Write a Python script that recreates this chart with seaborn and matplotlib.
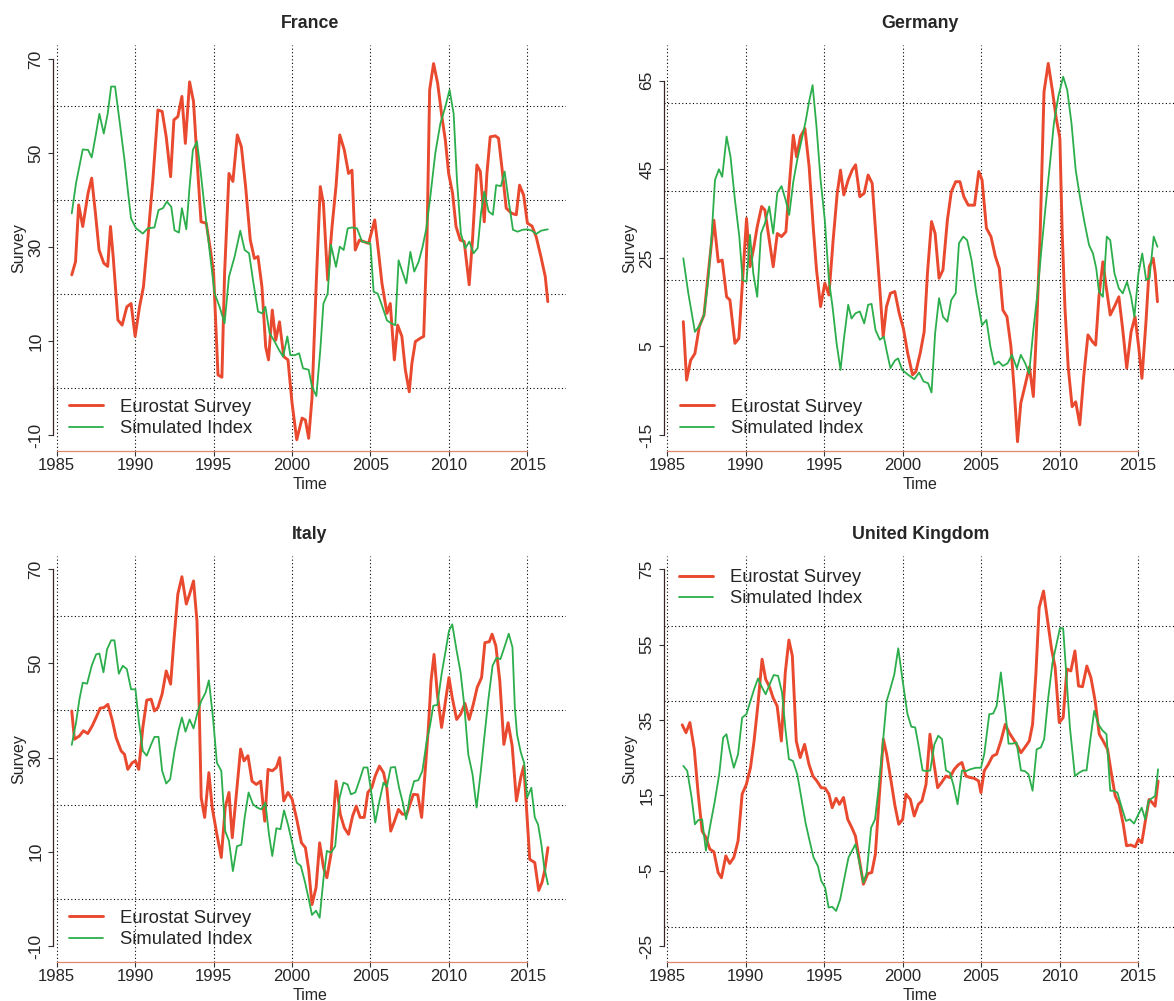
import matplotlib
matplotlib.use("Agg")
import matplotlib.pyplot as plt
import seaborn as sns
import numpy as np

sns.set_style("white")
plt.rcParams['font.family'] = ['Liberation Sans', 'DejaVu Sans']

# ---------------- data ----------------
fr_survey_t = [1985.96, 1986.2, 1986.4, 1986.66, 1987.0, 1987.23, 1987.47, 1987.7, 1988.0, 1988.25, 1988.43, 1988.6, 1988.9, 1989.17, 1989.47, 1989.74, 1990.0, 1990.28, 1990.53, 1990.8, 1991.13, 1991.45, 1991.72, 1991.98, 1992.26, 1992.47, 1992.72, 1992.98, 1993.2, 1993.47, 1993.72, 1994.0, 1994.2, 1994.53, 1994.8, 1995.0, 1995.28, 1995.53, 1995.7, 1995.98, 1996.23, 1996.51, 1996.77, 1997.04, 1997.34, 1997.6, 1997.83, 1998.08, 1998.32, 1998.5, 1998.74, 1998.96, 1999.2, 1999.47, 1999.74, 2000.0, 2000.3, 2000.64, 2000.85, 2001.06, 2001.27, 2001.55, 2001.8, 2002.0, 2002.27, 2002.55, 2002.8, 2003.04, 2003.33, 2003.6, 2003.82, 2004.03, 2004.29, 2004.56, 2004.88, 2005.27, 2005.52, 2005.73, 2006.05, 2006.26, 2006.52, 2006.73, 2007.0, 2007.22, 2007.47, 2007.64, 2007.86, 2008.17, 2008.39, 2008.6, 2008.77, 2009.02, 2009.28, 2009.55, 2009.77, 2009.98, 2010.23, 2010.45, 2010.72, 2010.97, 2011.29, 2011.5, 2011.78, 2012.0, 2012.25, 2012.42, 2012.63, 2012.95, 2013.16, 2013.38, 2013.65, 2014.0, 2014.29, 2014.5, 2014.76, 2015.0, 2015.29, 2015.56, 2015.86, 2016.14, 2016.3]
fr_survey_v = [24.1, 26.9, 39.0, 34.4, 41.5, 44.7, 37.2, 29.4, 26.6, 25.9, 34.4, 28.0, 14.5, 13.4, 17.3, 18.0, 11.0, 17.3, 21.6, 31.5, 44.3, 59.2, 58.9, 53.5, 45.0, 57.1, 57.8, 62.1, 52.1, 65.2, 61.0, 45.7, 35.4, 35.1, 29.4, 24.4, 2.8, 2.3, 24.4, 45.7, 44.0, 53.9, 51.4, 42.9, 31.5, 27.6, 28.0, 21.6, 8.8, 6.0, 16.6, 10.2, 14.1, 6.7, 6.0, -3.2, -11.0, -6.4, -6.8, -10.7, -2.2, 23.0, 42.9, 39.3, 23.0, 34.4, 42.9, 53.9, 50.7, 45.7, 46.4, 29.4, 31.5, 31.2, 30.8, 35.8, 28.7, 22.3, 15.9, 18.0, 6.0, 13.4, 11.0, 3.9, -0.8, 5.3, 9.9, 10.6, 11.0, 31.5, 63.5, 69.1, 64.9, 57.8, 52.8, 45.7, 41.5, 34.4, 31.5, 31.2, 22.0, 31.5, 47.5, 46.1, 35.4, 45.7, 53.5, 53.7, 53.2, 46.8, 38.3, 37.2, 36.9, 43.2, 41.1, 35.1, 34.5, 32.2, 28.0, 23.7, 18.4]
fr_index_t = [1985.96, 1986.23, 1986.66, 1987.0, 1987.23, 1987.47, 1987.72, 1988.0, 1988.25, 1988.47, 1988.72, 1989.0, 1989.32, 1989.53, 1989.74, 1990.06, 1990.49, 1990.8, 1991.23, 1991.49, 1991.77, 1992.02, 1992.3, 1992.51, 1992.79, 1992.98, 1993.26, 1993.47, 1993.68, 1993.94, 1994.15, 1994.43, 1994.74, 1995.06, 1995.38, 1995.7, 1995.98, 1996.34, 1996.7, 1996.98, 1997.26, 1997.51, 1997.83, 1998.09, 1998.3, 1998.57, 1998.89, 1999.17, 1999.43, 1999.7, 1999.89, 2000.17, 2000.45, 2000.7, 2001.06, 2001.27, 2001.55, 2001.8, 2002.0, 2002.27, 2002.48, 2002.8, 2003.04, 2003.29, 2003.55, 2003.82, 2004.14, 2004.46, 2004.99, 2005.2, 2005.46, 2005.73, 2006.05, 2006.37, 2006.58, 2006.79, 2007.0, 2007.28, 2007.54, 2007.79, 2008.07, 2008.32, 2008.56, 2008.81, 2009.13, 2009.45, 2009.77, 2010.04, 2010.3, 2010.51, 2010.76, 2011.04, 2011.3, 2011.57, 2011.83, 2012.04, 2012.25, 2012.53, 2012.8, 2013.01, 2013.31, 2013.55, 2013.8, 2014.08, 2014.37, 2014.69, 2015.0, 2015.29, 2015.56, 2015.86, 2016.3]
fr_index_v = [37.2, 43.6, 50.8, 50.7, 49.1, 53.5, 58.4, 54.2, 58.4, 64.2, 64.2, 57.0, 48.6, 42.2, 36.1, 34.0, 32.9, 34.0, 34.2, 37.9, 38.3, 39.7, 38.6, 33.6, 33.1, 38.3, 33.8, 42.9, 50.7, 52.5, 46.8, 38.3, 29.4, 20.2, 17.3, 13.8, 23.7, 28.0, 33.5, 29.4, 28.7, 23.0, 16.3, 15.9, 17.3, 11.7, 9.9, 8.1, 6.7, 11.0, 7.0, 7.0, 7.4, 4.2, 3.9, 0.3, -1.7, 8.1, 18.0, 20.1, 30.5, 25.8, 30.1, 29.4, 34.0, 34.2, 34.0, 31.2, 30.8, 20.5, 20.1, 17.6, 14.4, 13.7, 13.4, 27.2, 25.1, 22.3, 29.0, 24.8, 26.9, 30.1, 34.0, 40.7, 50.0, 56.3, 59.9, 63.5, 58.4, 44.3, 32.9, 29.8, 31.2, 28.7, 29.8, 37.2, 41.8, 37.6, 36.9, 43.2, 43.0, 46.1, 40.0, 33.7, 33.3, 33.7, 33.8, 33.5, 32.8, 33.5, 33.8]

de_survey_t = [1986.02, 1986.23, 1986.49, 1986.76, 1987.04, 1987.34, 1987.61, 1987.97, 1988.25, 1988.5, 1988.78, 1988.99, 1989.31, 1989.56, 1989.8, 1990.05, 1990.27, 1990.52, 1990.73, 1991.01, 1991.22, 1991.5, 1991.75, 1992.01, 1992.28, 1992.56, 1992.77, 1993.03, 1993.24, 1993.49, 1993.77, 1994.04, 1994.3, 1994.51, 1994.77, 1995.04, 1995.3, 1995.57, 1995.83, 1996.04, 1996.25, 1996.53, 1996.78, 1997.0, 1997.27, 1997.55, 1997.8, 1998.06, 1998.27, 1998.55, 1998.76, 1998.97, 1999.22, 1999.5, 1999.78, 2000.05, 2000.32, 2000.63, 2000.84, 2001.12, 2001.37, 2001.58, 2001.84, 2002.07, 2002.32, 2002.57, 2002.85, 2003.1, 2003.38, 2003.65, 2003.9, 2004.18, 2004.58, 2004.85, 2005.06, 2005.34, 2005.63, 2005.91, 2006.16, 2006.39, 2006.65, 2006.9, 2007.11, 2007.32, 2007.53, 2007.81, 2008.08, 2008.33, 2008.54, 2008.76, 2009.01, 2009.28, 2009.54, 2009.77, 2010.02, 2010.17, 2010.34, 2010.55, 2010.8, 2011.03, 2011.29, 2011.54, 2011.81, 2012.09, 2012.3, 2012.51, 2012.76, 2012.97, 2013.23, 2013.5, 2013.78, 2014.03, 2014.28, 2014.56, 2014.81, 2015.04, 2015.25, 2015.5, 2015.72, 2015.97, 2016.1, 2016.24]
de_survey_v = [10.6, -2.6, 1.9, 3.4, 9.5, 12.1, 21.5, 33.5, 24.1, 24.5, 16.2, 15.5, 5.7, 6.8, 20.0, 33.9, 23.0, 27.5, 32.0, 36.6, 35.8, 29.0, 23.0, 30.5, 29.8, 30.9, 41.1, 52.7, 47.8, 52.4, 54.2, 45.6, 32.0, 22.3, 14.0, 19.3, 16.6, 29.0, 39.6, 44.8, 39.2, 42.6, 44.8, 46.0, 38.8, 39.6, 43.7, 41.8, 31.3, 17.7, 7.2, 14.0, 17.0, 17.4, 12.5, 9.0, 3.5, -1.4, -0.7, 3.5, 8.3, 21.5, 33.2, 30.5, 20.4, 22.3, 33.5, 39.9, 42.2, 42.2, 38.8, 36.9, 36.9, 44.5, 42.6, 31.7, 29.8, 25.3, 22.6, 13.2, 11.7, 5.0, -4.8, -16.5, -7.8, -3.7, 0.4, -6.3, 9.5, 29.8, 62.5, 68.9, 62.9, 56.9, 52.0, 30.5, 14.0, 0.4, -8.6, -7.5, -12.7, -1.8, 7.6, 6.1, 5.3, 16.2, 24.1, 18.5, 12.1, 14.0, 16.2, 8.7, 0.1, 8.3, 11.7, 5.0, -2.2, 10.1, 23.0, 24.9, 21.5, 15.1]
de_index_t = [1986.02, 1986.34, 1986.76, 1987.08, 1987.34, 1987.61, 1987.82, 1988.04, 1988.29, 1988.5, 1988.78, 1989.03, 1989.31, 1989.59, 1989.8, 1990.05, 1990.27, 1990.48, 1990.73, 1990.97, 1991.22, 1991.5, 1991.75, 1992.01, 1992.28, 1992.54, 1992.77, 1993.03, 1993.28, 1993.56, 1993.81, 1994.04, 1994.26, 1994.51, 1994.77, 1995.04, 1995.3, 1995.53, 1995.79, 1996.04, 1996.25, 1996.53, 1996.74, 1997.0, 1997.27, 1997.55, 1997.8, 1998.02, 1998.27, 1998.55, 1998.8, 1999.01, 1999.22, 1999.5, 1999.71, 1999.97, 2000.35, 2000.74, 2001.05, 2001.33, 2001.62, 2001.84, 2002.07, 2002.32, 2002.57, 2002.85, 2003.1, 2003.38, 2003.59, 2003.86, 2004.11, 2004.39, 2004.7, 2005.06, 2005.34, 2005.59, 2005.84, 2006.12, 2006.39, 2006.69, 2006.96, 2007.28, 2007.53, 2007.81, 2008.06, 2008.33, 2008.59, 2008.86, 2009.11, 2009.39, 2009.64, 2009.92, 2010.23, 2010.49, 2010.76, 2011.03, 2011.33, 2011.6, 2011.88, 2012.13, 2012.34, 2012.51, 2012.76, 2013.01, 2013.23, 2013.5, 2013.78, 2014.03, 2014.3, 2014.56, 2014.77, 2015.03, 2015.27, 2015.52, 2015.73, 2016.0, 2016.24]
de_index_v = [24.9, 17.0, 8.3, 9.8, 12.1, 20.0, 29.8, 42.6, 45.0, 43.3, 52.4, 47.8, 38.1, 29.8, 20.0, 19.6, 30.2, 21.5, 16.2, 30.5, 32.8, 36.6, 30.5, 39.7, 41.2, 38.1, 34.7, 42.2, 47.1, 51.6, 55.7, 60.3, 64.0, 54.6, 42.6, 33.5, 20.0, 14.0, 5.7, -0.3, 6.5, 14.4, 11.3, 12.5, 12.9, 10.2, 14.4, 14.6, 8.7, 6.5, 7.2, 3.5, 0.1, 1.8, 2.3, -0.3, -1.4, -2.4, -0.9, -2.9, -3.3, -5.4, 8.0, 15.9, 11.7, 10.6, 15.5, 17.0, 28.3, 29.8, 29.0, 24.5, 17.0, 9.8, 11.0, 5.0, 0.9, 1.6, 0.6, 1.2, 3.1, 0.1, 3.1, 1.2, -1.1, 8.7, 17.0, 27.5, 36.6, 46.3, 55.4, 61.4, 65.9, 62.9, 55.4, 44.8, 38.1, 32.8, 27.9, 26.0, 22.6, 17.4, 16.2, 29.8, 29.0, 21.5, 18.1, 17.0, 19.6, 16.2, 11.7, 21.5, 26.0, 20.0, 20.4, 29.8, 27.5]

it_survey_t = [1985.96, 1986.13, 1986.45, 1986.7, 1986.98, 1987.26, 1987.51, 1987.77, 1988.0, 1988.26, 1988.53, 1988.79, 1989.11, 1989.32, 1989.53, 1989.81, 1990.02, 1990.23, 1990.49, 1990.74, 1991.02, 1991.23, 1991.45, 1991.72, 1991.98, 1992.26, 1992.47, 1992.72, 1992.98, 1993.26, 1993.47, 1993.72, 1993.94, 1994.06, 1994.21, 1994.43, 1994.7, 1994.91, 1995.21, 1995.49, 1995.74, 1995.98, 1996.19, 1996.45, 1996.72, 1996.94, 1997.19, 1997.45, 1997.72, 1998.0, 1998.26, 1998.47, 1998.74, 1999.0, 1999.21, 1999.47, 1999.74, 2000.0, 2000.3, 2000.6, 2000.85, 2001.06, 2001.27, 2001.53, 2001.76, 2002.01, 2002.22, 2002.48, 2002.8, 2003.07, 2003.33, 2003.6, 2003.86, 2004.09, 2004.34, 2004.6, 2004.83, 2005.08, 2005.3, 2005.57, 2005.83, 2006.04, 2006.29, 2006.53, 2006.78, 2007.03, 2007.31, 2007.52, 2007.73, 2008.01, 2008.26, 2008.47, 2008.69, 2008.86, 2009.05, 2009.26, 2009.53, 2009.75, 2010.0, 2010.21, 2010.49, 2010.74, 2011.02, 2011.29, 2011.55, 2011.8, 2012.08, 2012.29, 2012.57, 2012.75, 2012.99, 2013.24, 2013.5, 2013.77, 2014.03, 2014.3, 2014.58, 2014.77, 2014.98, 2015.15, 2015.47, 2015.72, 2015.93, 2016.1, 2016.31]
it_survey_v = [39.9, 33.9, 34.6, 35.7, 35.1, 36.7, 38.5, 40.5, 40.6, 41.3, 38.1, 34.2, 31.4, 30.7, 27.5, 28.9, 29.3, 27.5, 36.4, 42.2, 42.4, 39.9, 40.6, 43.5, 48.4, 45.6, 54.8, 64.7, 68.4, 62.6, 64.7, 67.5, 59.0, 44.2, 21.5, 17.3, 26.8, 19.4, 13.7, 8.8, 19.4, 22.6, 13.0, 22.2, 31.8, 29.3, 30.4, 25.0, 24.3, 25.0, 16.5, 27.5, 27.2, 27.9, 30.0, 20.8, 22.6, 21.2, 16.9, 11.9, 10.9, 6.3, -1.2, 2.4, 11.9, 6.6, 4.5, 9.5, 25.0, 18.0, 15.1, 13.7, 17.6, 19.7, 17.3, 17.3, 22.6, 23.6, 26.1, 28.2, 26.8, 23.6, 14.4, 16.5, 19.0, 18.0, 18.0, 20.1, 22.2, 22.1, 17.3, 26.5, 36.4, 46.3, 51.9, 43.5, 36.4, 41.3, 47.0, 42.7, 38.1, 39.2, 41.5, 38.1, 41.3, 44.9, 47.0, 54.4, 54.6, 56.2, 53.7, 46.3, 32.8, 37.4, 32.5, 20.8, 25.8, 28.2, 17.3, 8.4, 7.7, 1.8, 3.5, 6.0, 10.9]
it_index_t = [1985.96, 1986.23, 1986.45, 1986.66, 1986.94, 1987.23, 1987.51, 1987.72, 1987.98, 1988.21, 1988.47, 1988.68, 1988.96, 1989.21, 1989.47, 1989.74, 1990.02, 1990.23, 1990.49, 1990.74, 1991.02, 1991.23, 1991.49, 1991.72, 1991.98, 1992.23, 1992.51, 1992.77, 1992.98, 1993.21, 1993.47, 1993.72, 1994.0, 1994.21, 1994.49, 1994.7, 1994.96, 1995.21, 1995.49, 1995.74, 1995.98, 1996.23, 1996.49, 1996.77, 1996.98, 1997.23, 1997.51, 1997.77, 1998.04, 1998.3, 1998.53, 1998.74, 1999.0, 1999.26, 1999.49, 1999.74, 2000.0, 2000.3, 2000.56, 2000.83, 2001.06, 2001.27, 2001.53, 2001.76, 2002.01, 2002.22, 2002.48, 2002.75, 2003.03, 2003.28, 2003.54, 2003.75, 2004.03, 2004.3, 2004.56, 2004.81, 2005.08, 2005.3, 2005.57, 2005.83, 2006.04, 2006.29, 2006.57, 2006.82, 2007.06, 2007.27, 2007.52, 2007.78, 2008.05, 2008.31, 2008.58, 2008.79, 2009.0, 2009.26, 2009.53, 2009.79, 2010.0, 2010.21, 2010.49, 2010.74, 2010.97, 2011.23, 2011.5, 2011.76, 2012.01, 2012.25, 2012.5, 2012.78, 2013.03, 2013.28, 2013.56, 2013.81, 2014.05, 2014.2, 2014.34, 2014.58, 2014.79, 2014.98, 2015.25, 2015.47, 2015.68, 2015.89, 2016.06, 2016.31]
it_index_v = [32.7, 37.4, 42.4, 45.9, 45.7, 49.5, 51.9, 52.1, 48.1, 53.0, 54.9, 54.9, 47.8, 49.5, 48.8, 44.5, 44.5, 37.8, 31.4, 30.4, 32.8, 34.4, 34.4, 27.2, 24.5, 25.4, 31.4, 35.8, 38.5, 35.5, 38.1, 36.2, 39.9, 42.0, 43.8, 46.4, 38.5, 28.9, 27.2, 14.4, 12.3, 5.9, 11.2, 11.5, 17.3, 22.6, 20.1, 19.4, 19.0, 20.4, 13.7, 9.1, 15.0, 14.8, 18.8, 15.8, 12.0, 7.7, 7.0, 3.5, 0.0, -3.4, -2.5, -4.0, 4.5, 10.2, 9.8, 11.2, 21.5, 24.7, 24.3, 22.2, 22.6, 25.2, 27.9, 27.9, 21.9, 16.2, 20.8, 24.7, 23.8, 27.9, 28.0, 23.6, 20.4, 16.9, 21.9, 25.0, 25.2, 27.2, 33.5, 36.7, 41.0, 41.2, 47.7, 52.7, 56.9, 58.3, 52.7, 48.1, 41.3, 30.7, 26.5, 19.4, 26.5, 34.2, 42.0, 49.5, 51.2, 50.9, 53.7, 56.3, 53.4, 40.6, 34.9, 31.1, 28.9, 21.5, 23.6, 17.3, 15.8, 11.6, 7.0, 3.1]

uk_survey_t = [1985.95, 1986.19, 1986.44, 1986.72, 1986.97, 1987.22, 1987.46, 1987.71, 1987.97, 1988.24, 1988.45, 1988.73, 1988.98, 1989.24, 1989.51, 1989.77, 1990.04, 1990.3, 1990.53, 1990.78, 1991.04, 1991.27, 1991.53, 1991.74, 1992.0, 1992.27, 1992.52, 1992.75, 1992.97, 1993.22, 1993.47, 1993.75, 1994.03, 1994.28, 1994.53, 1994.81, 1995.06, 1995.3, 1995.51, 1995.76, 1995.97, 1996.23, 1996.5, 1996.76, 1996.99, 1997.25, 1997.5, 1997.78, 1998.03, 1998.26, 1998.52, 1998.77, 1998.98, 1999.26, 1999.51, 1999.75, 2000.0, 2000.21, 2000.49, 2000.74, 2001.0, 2001.23, 2001.49, 2001.74, 2001.97, 2002.23, 2002.48, 2002.76, 2003.01, 2003.29, 2003.55, 2003.78, 2004.03, 2004.31, 2004.56, 2004.84, 2004.99, 2005.2, 2005.46, 2005.73, 2005.99, 2006.26, 2006.54, 2006.79, 2007.05, 2007.26, 2007.54, 2007.79, 2008.07, 2008.28, 2008.49, 2008.7, 2008.98, 2009.24, 2009.49, 2009.72, 2009.98, 2010.23, 2010.47, 2010.72, 2010.98, 2011.21, 2011.46, 2011.74, 2012.0, 2012.27, 2012.53, 2012.78, 2013.06, 2013.31, 2013.55, 2013.8, 2014.06, 2014.27, 2014.54, 2014.82, 2015.03, 2015.24, 2015.5, 2015.71, 2015.92, 2016.09, 2016.28]
uk_survey_v = [33.7, 31.6, 34.3, 27.2, 15.3, 5.5, 3.8, 0.7, 0.0, -5.5, -6.9, -1.1, -3.1, -1.5, 2.9, 15.3, 17.9, 22.3, 29.4, 39.2, 51.1, 45.8, 43.6, 40.9, 38.7, 29.4, 47.6, 56.2, 52.0, 29.4, 25.0, 28.5, 23.2, 20.1, 18.8, 17.0, 16.9, 15.3, 11.7, 14.2, 12.6, 14.4, 8.6, 6.4, 4.2, -2.4, -8.6, -5.8, -5.5, -0.7, 15.3, 29.9, 25.9, 18.8, 12.2, 7.3, 8.6, 15.3, 13.9, 9.5, 12.6, 13.5, 17.9, 31.2, 24.1, 17.0, 18.4, 20.1, 19.7, 21.9, 23.1, 23.7, 20.1, 19.7, 19.5, 18.8, 15.7, 21.5, 23.2, 25.4, 25.9, 29.4, 33.8, 31.6, 29.9, 28.5, 26.3, 27.7, 29.4, 33.8, 47.1, 64.8, 69.2, 61.3, 53.8, 48.9, 34.3, 35.6, 48.5, 48.0, 53.3, 44.0, 43.8, 49.3, 46.2, 40.0, 31.2, 29.4, 27.2, 20.6, 14.8, 12.6, 7.3, 1.6, 1.8, 1.3, 3.3, 2.4, 9.0, 13.9, 13.0, 12.1, 18.8]
uk_index_t = [1986.02, 1986.27, 1986.55, 1986.76, 1986.97, 1987.22, 1987.46, 1987.71, 1988.03, 1988.31, 1988.56, 1988.77, 1988.98, 1989.24, 1989.51, 1989.77, 1990.04, 1990.3, 1990.53, 1990.78, 1991.04, 1991.27, 1991.53, 1991.78, 1992.06, 1992.31, 1992.54, 1992.75, 1993.01, 1993.28, 1993.54, 1993.81, 1994.07, 1994.32, 1994.6, 1994.81, 1995.06, 1995.28, 1995.51, 1995.76, 1996.02, 1996.29, 1996.55, 1996.78, 1996.99, 1997.25, 1997.5, 1997.71, 1997.99, 1998.24, 1998.47, 1998.73, 1998.98, 1999.19, 1999.47, 1999.72, 2000.0, 2000.3, 2000.55, 2000.8, 2001.0, 2001.27, 2001.53, 2001.76, 2002.02, 2002.27, 2002.51, 2002.76, 2003.01, 2003.25, 2003.5, 2003.78, 2004.03, 2004.31, 2004.67, 2004.99, 2005.2, 2005.52, 2005.77, 2005.99, 2006.26, 2006.54, 2006.75, 2007.0, 2007.26, 2007.54, 2007.79, 2008.02, 2008.28, 2008.54, 2008.81, 2009.02, 2009.28, 2009.55, 2009.77, 2010.02, 2010.23, 2010.4, 2010.66, 2010.98, 2011.25, 2011.51, 2011.72, 2011.95, 2012.21, 2012.48, 2012.74, 2012.99, 2013.23, 2013.44, 2013.69, 2013.97, 2014.23, 2014.48, 2014.75, 2015.03, 2015.24, 2015.46, 2015.67, 2015.88, 2016.09, 2016.28]
uk_index_v = [22.8, 21.5, 14.4, 7.3, 8.4, 8.6, 0.3, 6.4, 13.5, 20.6, 30.3, 31.2, 26.8, 22.3, 25.9, 35.6, 36.5, 40.0, 43.1, 46.0, 43.6, 41.8, 44.5, 46.9, 46.7, 42.3, 32.1, 24.6, 24.1, 20.6, 14.4, 7.7, 2.9, -1.5, -3.8, -7.7, -9.5, -14.8, -14.6, -15.7, -12.6, -6.9, -1.5, 0.3, 2.0, -2.9, -8.2, -5.5, 6.4, 8.6, 17.0, 28.5, 40.0, 42.9, 47.1, 54.0, 45.4, 36.7, 33.2, 33.0, 28.5, 21.6, 21.4, 21.6, 28.5, 30.8, 29.9, 21.6, 21.0, 17.5, 12.6, 21.6, 21.4, 21.9, 22.3, 22.3, 25.9, 36.5, 36.7, 38.7, 47.6, 37.4, 28.7, 28.7, 29.0, 21.6, 21.4, 20.6, 16.2, 27.2, 27.7, 29.9, 40.9, 50.2, 54.4, 59.3, 59.3, 48.9, 33.0, 20.1, 21.0, 21.6, 21.6, 29.4, 37.4, 33.8, 32.2, 31.2, 16.2, 16.2, 15.7, 11.7, 8.2, 8.6, 7.5, 10.0, 11.7, 8.6, 13.5, 14.2, 14.8, 21.9]

titles = ["France", "Germany", "Italy", "United Kingdom"]
series_names = ["Eurostat Survey", "Simulated Index"]
x_ticks = [1985, 1990, 1995, 2000, 2005, 2010, 2015]
y_ticks = [[-10, 10, 30, 50, 70], [-15, 5, 25, 45, 65], [-10, 10, 30, 50, 70], [-25, -5, 15, 35, 55, 75]]
h_grid = [[0, 20, 40, 60], [0, 20, 40, 60], [0, 20, 40, 60], [-20, 0, 20, 40, 60]]
y_limits = [(-13.34, 73.05), (-18.54, 73.06), (-13.33, 72.8), (-29.17, 78.5)]
x_limits = (1984.79, 2017.46)

data = [
    (fr_survey_t, fr_survey_v, fr_index_t, fr_index_v),
    (de_survey_t, de_survey_v, de_index_t, de_index_v),
    (it_survey_t, it_survey_v, it_index_t, it_index_v),
    (uk_survey_t, uk_survey_v, uk_index_t, uk_index_v),
]

# ---------------- layout ----------------
W, H = 1174, 1001
fig = plt.figure(figsize=(W / 100, H / 100), dpi=100)
fig.patch.set_facecolor("white")

boxes = [  # left, top, right, bottom in pixels
    (53.4, 45.0, 566.0, 450.7),
    (664.0, 45.0, 1176.6, 450.7),
    (53.4, 556.0, 566.0, 961.7),
    (664.0, 556.0, 1176.6, 961.7),
]
legend_top = [False, False, False, True]

RED = "#E9492E"
GREEN = "#2BAE4B"
AX_H = 405.7

for i, (l, t, r, b) in enumerate(boxes):
    ax = fig.add_axes([l / W, 1 - b / H, (r - l) / W, (b - t) / H])
    ax.set_facecolor("white")
    st, sv, it_, iv = data[i]
    for x0 in x_ticks:
        ax.axvline(x0, color="black", lw=0.8, ls=(0, (1, 2.2)), zorder=1)
    for y0 in h_grid[i]:
        ax.axhline(y0, color="black", lw=0.8, ls=(0, (1, 2.2)), zorder=1)
    sns.lineplot(x=st, y=sv, ax=ax, color=RED, lw=2.1, label=series_names[0],
                 estimator=None, sort=False, zorder=3)
    sns.lineplot(x=it_, y=iv, ax=ax, color=GREEN, lw=1.3, label=series_names[1],
                 estimator=None, sort=False, zorder=4)
    ax.set_xlim(*x_limits)
    ax.set_ylim(*y_limits[i])
    ax.set_xticks(x_ticks)
    ax.set_yticks(y_ticks[i])
    ax.set_xticklabels([str(v) for v in x_ticks])
    ax.set_yticklabels([str(v) for v in y_ticks[i]], rotation=90, va="center")
    for s in ["top", "right"]:
        ax.spines[s].set_visible(False)
    ax.spines["left"].set_bounds(y_ticks[i][0], y_ticks[i][-1])
    ax.spines["bottom"].set_bounds(x_ticks[0], x_ticks[-1])
    ax.spines["left"].set_color("#3a2626")
    ax.spines["bottom"].set_color("#e0876c")
    ax.spines["left"].set_linewidth(0.9)
    ax.spines["bottom"].set_linewidth(0.9)
    ax.tick_params(axis="x", direction="out", length=3.6, width=0.8, color="#333333",
                   labelsize=12, pad=1.5, bottom=True)
    ax.tick_params(axis="y", direction="out", length=3.6, width=0.8, color="#333333",
                   labelsize=12.5, pad=3.5, left=True)
    ax.set_xlabel("Time", fontsize=11.5)
    ax.xaxis.label.set_va("baseline")
    ax.xaxis.set_label_coords(0.5, -38.5 / AX_H)
    ax.set_ylabel("Survey", fontsize=11.5)
    ax.yaxis.label.set_va("center")
    ax.yaxis.set_label_coords(-34.4 / (r - l), 0.5)
    ax.text(0.5, 1 + 17.0 / AX_H, titles[i], transform=ax.transAxes, ha="center",
            va="baseline", fontsize=12.8, fontweight="bold")
    if legend_top[i]:
        ax.legend(loc="upper left", bbox_to_anchor=(0.030, 1 - 13.0 / AX_H),
                  frameon=False, fontsize=13.3, handlelength=1.84, handletextpad=0.9,
                  labelspacing=0.23, borderpad=0, borderaxespad=0)
    else:
        ax.legend(loc="lower left", bbox_to_anchor=(0.031, 13.7 / AX_H),
                  frameon=False, fontsize=13.3, handlelength=1.84, handletextpad=0.9,
                  labelspacing=0.23, borderpad=0, borderaxespad=0)

fig.savefig("out.png", dpi=100, facecolor="white")
